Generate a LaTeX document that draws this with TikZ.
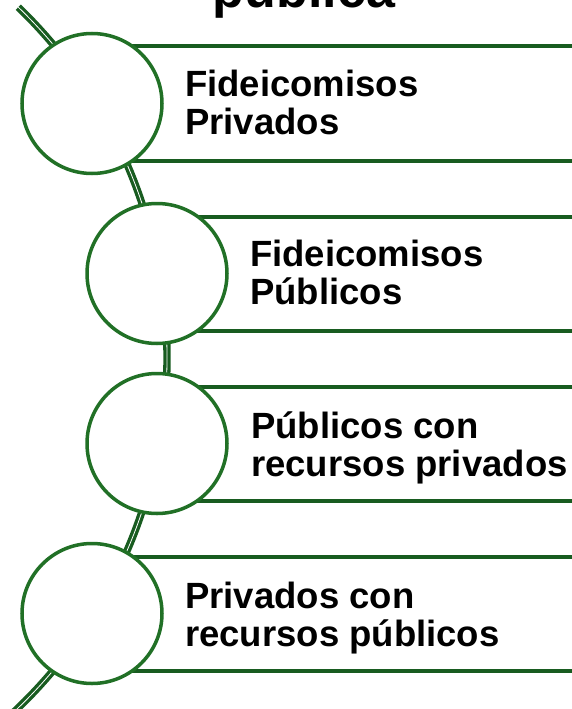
\documentclass[tikz,border=0pt]{standalone}
\usepackage{fontspec}
\setmainfont{Liberation Sans}
\definecolor{ringgreen}{RGB}{33,112,38}
\definecolor{bargreen}{RGB}{24,92,32}
\begin{document}
\begin{tikzpicture}[x=1pt, y=-1pt,
  ring/.style={circle, draw=ringgreen, line width=3.5pt, fill=white, minimum size=140pt, inner sep=0pt},
  bar/.style={draw=bargreen, line width=4pt},
  spine/.style={draw=bargreen, line width=3.3pt, double=white, double distance=0.8pt},
  lbl/.style={anchor=base west, align=left, inner sep=0pt, font=\bfseries\fontsize{36.5}{38}\selectfont}]
\useasboundingbox (0,0) rectangle (572,709);
\clip (0,0) rectangle (572,709);
\node[anchor=base, inner sep=0pt, font=\bfseries\fontsize{52}{54}\selectfont] (title) at (304,8) {pública};
\draw[spine] (-320,357.5) ++(-46:487) arc[start angle=-46, end angle=47, radius=487];
\draw[bar] (92,46.5) -- (572,46.5);
\draw[bar] (92,160.5) -- (572,160.5);
\draw[bar] (157,216.5) -- (572,216.5);
\draw[bar] (157,330.5) -- (572,330.5);
\draw[bar] (157,386.5) -- (572,386.5);
\draw[bar] (157,500.5) -- (572,500.5);
\draw[bar] (92,556.5) -- (572,556.5);
\draw[bar] (92,670.5) -- (572,670.5);
\node[ring] (ring1) at (92,103.5){};
\node[ring] (ring2) at (157,273.5){};
\node[ring] (ring3) at (157,443.5){};
\node[ring] (ring4) at (92,613.5){};
% base anchor sits on the last line
\node[lbl] (item1) at (185,134) {Fideicomisos\\Privados};
\node[lbl] (item2) at (250,304) {Fideicomisos\\Públicos};
\node[lbl] (item3) at (251,476) {Públicos con\\recursos privados};
\node[lbl] (item4) at (185,646) {Privados con\\recursos públicos};
\end{tikzpicture}
\end{document}
